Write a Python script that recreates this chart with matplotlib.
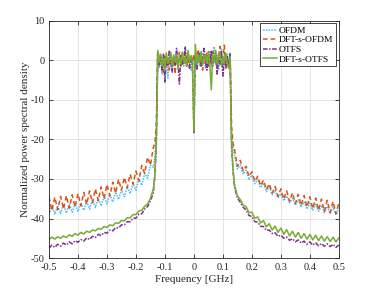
import numpy as np
import matplotlib
matplotlib.use("Agg")
import matplotlib.pyplot as plt

plt.rcParams['font.family'] = ['Liberation Serif', 'DejaVu Serif']

# ---------------- frequency grid segments (GHz) ----------------
f_left = np.linspace(-0.50, -0.14, 37)
f_edge_left = [-0.135, -0.13, -0.127]
f_band = np.linspace(-0.125, 0.125, 51)
f_edge_right = [0.127, 0.13, 0.135]
f_right = np.linspace(0.14, 0.50, 37)

# ---------------- OFDM ----------------
ofdm_left = [-39.0, -36.8, -38.9, -36.7, -38.8, -36.5, -38.6, -36.4, -38.4, -36.2,
             -38.2, -36.0, -37.9, -35.7, -37.6, -35.3, -37.2, -34.9, -36.8, -34.4,
             -36.3, -33.9, -35.8, -33.3, -35.2, -32.7, -34.5, -32.0, -33.7, -31.1,
             -32.8, -30.0, -31.6, -28.6, -29.8, -26.5, -27.0]
ofdm_edge_left = [-24.5, -19.0, -8.0]
ofdm_band = [1.5, -2.0, 0.5, -3.5, 1.0, -1.5, 0.8, -4.5, 1.2, -0.5,
             -2.5, 1.5, -1.0, 0.5, -2.0, 1.0, -0.8, 2.0, -1.5, 0.3,
             -1.0, 1.8, -0.5, -2.5, 0.8, -1.2, 1.5, -0.5, 0.8, -1.5,
             2.2, -0.8, 0.5, -2.0, 1.2, -0.5, 2.5, -1.5, 0.6, 3.5,
             -1.0, 1.5, -2.5, 0.5, 2.8, -1.2, 0.8, -2.0, 1.5, -0.8, 2.0]
ofdm_edge_right = [-8.0, -19.0, -22.0]
ofdm_right = [-24.0, -27.5, -26.5, -28.8, -27.8, -30.2, -29.0, -31.2, -30.0, -32.2,
              -31.0, -33.2, -32.0, -34.0, -32.9, -34.8, -33.7, -35.5, -34.3, -36.0,
              -34.9, -36.6, -35.3, -37.1, -35.8, -37.6, -36.1, -37.9, -36.4, -38.2,
              -36.7, -38.5, -36.9, -38.8, -37.1, -39.1, -37.3]

# ---------------- DFT-s-OFDM ----------------
dftsofdm_left = [-34.5, -38.0, -34.6, -37.8, -34.4, -37.6, -34.2, -37.4, -34.0, -37.1,
                 -33.7, -36.8, -33.4, -36.4, -33.0, -36.0, -32.5, -35.5, -32.0, -35.0,
                 -31.4, -34.3, -30.8, -33.6, -30.1, -32.8, -29.6, -32.2, -28.8, -31.3,
                 -28.0, -30.5, -26.6, -28.6, -24.5, -26.5, -22.0]
dftsofdm_edge_left = [-21.0, -17.0, -7.0]
dftsofdm_band = [0.5, -1.5, 1.8, -0.5, -3.0, 1.0, -1.5, 0.5, -2.5, 1.5,
                 -1.0, 0.8, -3.5, 1.2, -0.5, 2.0, -1.5, 0.5, -0.8, 2.5,
                 -1.5, 0.6, -2.0, 1.0, -0.5, 1.5, -1.8, 0.8, 2.8, -1.0,
                 0.5, -2.5, 1.2, -0.8, 2.0, -1.5, 0.8, -1.0, 2.2, -0.5,
                 1.5, -1.8, 0.8, 3.5, -1.0, 0.5, 3.8, -2.0, 1.0, -1.5, 1.5]
dftsofdm_edge_right = [-7.0, -17.0, -21.0]
dftsofdm_right = [-22.5, -26.8, -25.3, -28.0, -26.8, -29.4, -28.2, -30.6, -29.3, -31.7,
                  -30.3, -32.7, -31.2, -33.6, -31.9, -34.4, -32.5, -35.1, -33.0, -35.7,
                  -33.5, -36.2, -33.9, -36.7, -34.2, -37.1, -34.5, -37.5, -34.8, -37.9,
                  -35.1, -38.2, -35.4, -38.5, -35.7, -38.8, -36.0]

# ---------------- OTFS ----------------
otfs_left = [-47.5, -46.7, -47.3, -46.5, -47.0, -46.2, -46.7, -45.9, -46.4, -45.6,
             -46.0, -45.3, -45.7, -44.9, -45.3, -44.5, -44.8, -44.0, -44.3, -43.5,
             -43.7, -42.9, -43.1, -42.3, -42.4, -41.6, -41.6, -40.8, -40.8, -39.9,
             -39.9, -38.9, -38.8, -37.6, -37.0, -35.5, -33.5]
otfs_edge_left = [-29.5, -22.0, -10.0]
otfs_band = [2.0, -1.0, 0.5, -2.5, 1.5, -5.5, 0.8, -1.5, 2.5, -0.5,
             -3.0, 1.0, -1.5, 3.0, -0.5, -6.0, 1.5, -1.0, 0.5, 3.5,
             -1.5, 2.0, -2.0, 0.8, -1.0, -18.5, 1.0, -2.5, 0.5, 2.0,
             -1.5, 0.8, 3.0, -0.5, -2.5, 1.5, -0.8, 2.5, -1.5, 0.5,
             1.8, -3.5, 0.8, -1.0, 2.5, -4.0, 0.5, -1.5, 1.0, -2.0, 1.5]
otfs_edge_right = [-10.0, -22.0, -28.0]
otfs_right = [-32.0, -34.8, -35.9, -37.2, -37.8, -39.2, -39.5, -40.8, -40.9, -42.0,
              -42.0, -43.0, -42.9, -43.8, -43.6, -44.5, -44.2, -45.0, -44.7, -45.5,
              -45.1, -45.9, -45.4, -46.2, -45.7, -46.5, -45.9, -46.7, -46.1, -46.9,
              -46.3, -47.0, -46.4, -47.1, -46.5, -47.3, -46.7]

# ---------------- DFT-s-OTFS ----------------
dftsotfs_left = [-45.3, -44.7, -45.2, -44.6, -45.0, -44.4, -44.8, -44.1, -44.5, -43.8,
                 -44.2, -43.5, -43.9, -43.2, -43.5, -42.9, -43.1, -42.5, -42.7, -42.0,
                 -42.3, -41.6, -41.8, -41.1, -41.2, -40.5, -40.6, -39.8, -39.8, -39.0,
                 -39.0, -38.1, -37.9, -36.9, -36.3, -34.9, -32.5]
dftsotfs_edge_left = [-29.0, -21.0, -9.0]
dftsotfs_band = [2.5, -0.5, 1.5, -1.5, 0.5, -2.5, 1.8, -0.8, 0.5, 2.0,
                 -1.5, 1.0, -0.5, 1.5, -2.0, 0.8, -1.0, 2.0, -0.5, 1.0,
                 -1.5, 2.5, -0.8, 1.2, -0.5, -18.0, 4.0, -1.0, 1.5, -0.5,
                 2.0, -1.2, 0.8, 1.5, -0.8, 2.2, -1.0, -7.5, 1.5, -0.5,
                 2.5, -1.0, 0.8, 2.0, -1.5, 1.0, -0.5, 1.8, -1.0, -2.0, 1.0]
dftsotfs_edge_right = [-9.0, -21.0, -27.5]
dftsotfs_right = [-31.5, -34.3, -35.2, -36.6, -37.0, -38.5, -38.4, -39.9, -39.6, -41.1,
                  -40.5, -42.1, -41.3, -42.9, -41.9, -43.5, -42.4, -44.0, -42.8, -44.4,
                  -43.2, -44.7, -43.5, -45.0, -43.8, -45.2, -44.0, -45.4, -44.2, -45.6,
                  -44.4, -45.7, -44.6, -45.8, -44.7, -45.9, -44.9]

labels = ["OFDM", "DFT-s-OFDM", "OTFS", "DFT-s-OTFS"]
colors = ["#4DBEEE", "#D95319", "#7E2F8E", "#77AC30"]
styles = [(0, (1, 0.8)), (0, (3, 2)), (0, (3, 1, 1, 1)), "-"]

freq = np.concatenate([f_left, f_edge_left, f_band, f_edge_right, f_right])
series = [
    np.concatenate([ofdm_left, ofdm_edge_left, ofdm_band, ofdm_edge_right, ofdm_right]),
    np.concatenate([dftsofdm_left, dftsofdm_edge_left, dftsofdm_band, dftsofdm_edge_right, dftsofdm_right]),
    np.concatenate([otfs_left, otfs_edge_left, otfs_band, otfs_edge_right, otfs_right]),
    np.concatenate([dftsotfs_left, dftsotfs_edge_left, dftsotfs_band, dftsotfs_edge_right, dftsotfs_right]),
]

fig = plt.figure(figsize=(3.74, 2.91), dpi=100)
ax = fig.add_axes([0.131, 0.113, 0.775, 0.816])

for y, lab, c, ls in zip(series, labels, colors, styles):
    ax.plot(freq, y, color=c, linestyle=ls, linewidth=1.1, label=lab)

ax.set_xlim(-0.5, 0.5)
ax.set_ylim(-50, 10)
ax.set_xticks(np.arange(-0.5, 0.51, 0.1))
ax.set_xticklabels(["-0.5", "-0.4", "-0.3", "-0.2", "-0.1", "0", "0.1", "0.2", "0.3", "0.4", "0.5"])
ax.set_yticks(np.arange(-50, 11, 10))
ax.set_yticklabels(["-50", "-40", "-30", "-20", "-10", "0", "10"])
ax.grid(True, color="#E0E0E0", linewidth=0.6)
ax.set_axisbelow(True)
ax.tick_params(direction="in", length=3, width=0.6, labelsize=7.5, colors="#262626",
               top=True, right=True)
ax.tick_params(axis="x", pad=3.5)
ax.tick_params(axis="y", pad=3)
for s in ax.spines.values():
    s.set_color("#262626")
    s.set_linewidth(0.6)
ax.set_xlabel("Frequency [GHz]", fontsize=8, color="#262626", labelpad=2.5)
ax.set_ylabel("Normalized power spectral density", fontsize=8, color="#262626", labelpad=1)

leg = ax.legend(loc="upper right", fontsize=6.8, handlelength=1.5, handletextpad=0.2,
                borderpad=0.3, labelspacing=0.1, borderaxespad=0.3, fancybox=False,
                framealpha=1, edgecolor="#262626")
leg.get_frame().set_linewidth(0.6)

fig.savefig("out.png", dpi=100)
